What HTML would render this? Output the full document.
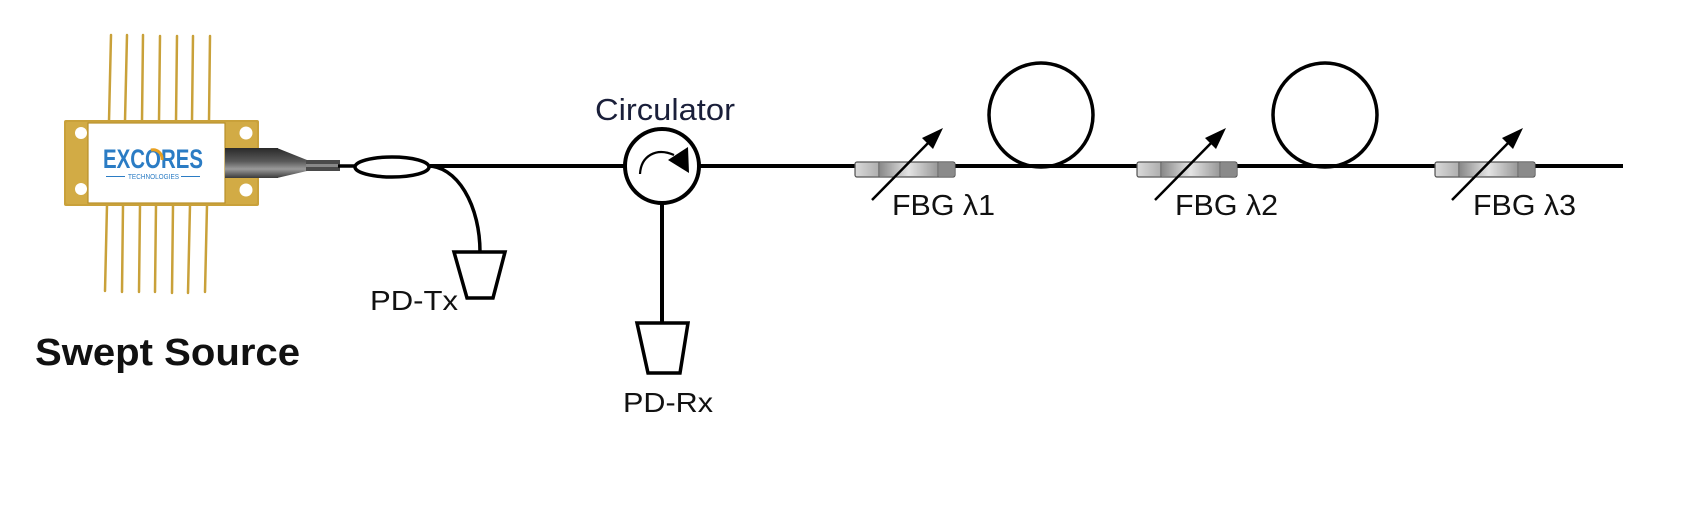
<!DOCTYPE html>
<html>
<head>
<meta charset="utf-8">
<style>
  html,body{margin:0;padding:0;background:#fff;}
  body{width:1682px;height:505px;overflow:hidden;}
  svg{display:block;}
  text{font-family:"Liberation Sans",sans-serif;}
</style>
</head>
<body>
<svg width="1682" height="505" viewBox="0 0 1682 505" xmlns="http://www.w3.org/2000/svg">
  <defs>
    <linearGradient id="barrel" x1="0" y1="0" x2="0" y2="1">
      <stop offset="0" stop-color="#2a2a2a"/>
      <stop offset="0.45" stop-color="#5a5a5a"/>
      <stop offset="0.7" stop-color="#9a9a9a"/>
      <stop offset="1" stop-color="#3a3a3a"/>
    </linearGradient>
    <linearGradient id="fbgmid" x1="0" y1="0" x2="1" y2="0">
      <stop offset="0" stop-color="#8a8a8a"/>
      <stop offset="0.5" stop-color="#e4e4e4"/>
      <stop offset="1" stop-color="#9a9a9a"/>
    </linearGradient>
    <linearGradient id="fbgend" x1="0" y1="0" x2="1" y2="0">
      <stop offset="0" stop-color="#d8d8d8"/>
      <stop offset="1" stop-color="#b0b0b0"/>
    </linearGradient>
    <g id="fbg">
      <rect x="0" y="-4" width="100" height="15" rx="2" fill="#c8c8c8" stroke="#555" stroke-width="1.2"/>
      <rect x="1" y="-3" width="22" height="13" fill="url(#fbgend)"/>
      <rect x="25" y="-3" width="57" height="13" fill="url(#fbgmid)"/>
      <rect x="84" y="-3" width="15" height="13" fill="#8a8a8a"/>
      <line x1="24" y1="-4" x2="24" y2="11" stroke="#666" stroke-width="1.5"/>
      <line x1="83" y1="-4" x2="83" y2="11" stroke="#666" stroke-width="1.5"/>
    </g>
    <g id="tunearrow">
      <line x1="0" y1="0" x2="62" y2="-63" stroke="#000" stroke-width="2.5"/>
      <polygon points="71,-72 61,-51 50,-62" fill="#000"/>
    </g>
  </defs>

  <!-- Pins top -->
  <g stroke="#c9a13a" stroke-width="2.5" stroke-linecap="round">
    <line x1="111" y1="35" x2="109" y2="121"/>
    <line x1="127" y1="35" x2="125" y2="121"/>
    <line x1="143" y1="35" x2="142" y2="121"/>
    <line x1="160" y1="36" x2="159" y2="121"/>
    <line x1="177" y1="36" x2="176" y2="121"/>
    <line x1="193" y1="36" x2="192" y2="121"/>
    <line x1="210" y1="36" x2="209" y2="121"/>
    <!-- bottom -->
    <line x1="107" y1="205" x2="105" y2="291"/>
    <line x1="123" y1="205" x2="122" y2="292"/>
    <line x1="140" y1="205" x2="139" y2="292"/>
    <line x1="156" y1="205" x2="155" y2="292"/>
    <line x1="173" y1="205" x2="172" y2="293"/>
    <line x1="190" y1="205" x2="188" y2="293"/>
    <line x1="207" y1="205" x2="205" y2="292"/>
  </g>

  <!-- Package body -->
  <rect x="64" y="120" width="195" height="86" rx="2" fill="#c9a13a"/>
  <rect x="66" y="122" width="191" height="82" rx="2" fill="#d2ab45"/>
  <rect x="88" y="123" width="137" height="80" fill="#ffffff" stroke="#b88f2a" stroke-width="1.2"/>
  <circle cx="81" cy="133" r="6" fill="#fff"/>
  <circle cx="81" cy="189" r="6" fill="#fff"/>
  <circle cx="246" cy="133" r="6.5" fill="#fff"/>
  <circle cx="246" cy="190" r="6.5" fill="#fff"/>

  <!-- Logo -->
  <text x="103" y="168" font-size="27" font-weight="bold" fill="#2b7cc4" textLength="100" lengthAdjust="spacingAndGlyphs">EXCORES</text>
  <path d="M151 150 A 9 9 0 0 1 162 160" fill="none" stroke="#e8a020" stroke-width="3"/>
  <line x1="106" y1="176.5" x2="125" y2="176.5" stroke="#2b7cc4" stroke-width="1"/>
  <line x1="181" y1="176.5" x2="200" y2="176.5" stroke="#2b7cc4" stroke-width="1"/>
  <text x="128" y="179" font-size="7.5" fill="#2b7cc4" textLength="51" lengthAdjust="spacingAndGlyphs">TECHNOLOGIES</text>

  <!-- Connector -->
  <rect x="225" y="148" width="53" height="30" fill="url(#barrel)"/>
  <polygon points="277,148 307,160 307,171 277,178" fill="url(#barrel)"/>
  <rect x="306" y="160" width="34" height="11" fill="#4a4a4a"/>
  <rect x="306" y="164" width="34" height="3" fill="#888"/>

  <!-- Fiber line -->
  <line x1="338" y1="166" x2="356" y2="166" stroke="#000" stroke-width="3.5"/>
  <line x1="430" y1="166" x2="626" y2="166" stroke="#000" stroke-width="4"/>
  <line x1="699" y1="166" x2="1623" y2="166" stroke="#000" stroke-width="4"/>

  <!-- Coupler -->
  <ellipse cx="392" cy="167" rx="37" ry="10" fill="none" stroke="#000" stroke-width="3.5"/>
  <path d="M428 166 A 52 86 0 0 1 480 252" fill="none" stroke="#000" stroke-width="3.5"/>

  <!-- PD-Tx -->
  <polygon points="454,252 505,252 493,298 467,298" fill="#fff" stroke="#000" stroke-width="3.5" stroke-linejoin="miter"/>
  <text x="370" y="310" font-size="28" fill="#111" textLength="88" lengthAdjust="spacingAndGlyphs">PD-Tx</text>

  <!-- Circulator -->
  <line x1="662" y1="200" x2="662" y2="323" stroke="#000" stroke-width="4"/>
  <circle cx="662" cy="166" r="37" fill="#fff" stroke="#000" stroke-width="4"/>
  <path d="M640 174 C 641 156 656 147 674 155" fill="none" stroke="#000" stroke-width="2.2"/>
  <polygon points="668,160 688,147 689,173" fill="#000"/>
  <text x="595" y="120" font-size="31" fill="#1a1f3a" textLength="140" lengthAdjust="spacingAndGlyphs">Circulator</text>

  <!-- PD-Rx -->
  <polygon points="637,323 688,323 680,373 648,373" fill="#fff" stroke="#000" stroke-width="3.5"/>
  <text x="623" y="412" font-size="28" fill="#111" textLength="90" lengthAdjust="spacingAndGlyphs">PD-Rx</text>

  <!-- Loops -->
  <circle cx="1041" cy="115" r="52" fill="none" stroke="#000" stroke-width="3.5"/>
  <circle cx="1325" cy="115" r="52" fill="none" stroke="#000" stroke-width="3.5"/>

  <!-- FBGs -->
  <use href="#fbg" x="855" y="166"/>
  <use href="#fbg" x="1137" y="166"/>
  <use href="#fbg" x="1435" y="166"/>
  <use href="#tunearrow" x="872" y="200"/>
  <use href="#tunearrow" x="1155" y="200"/>
  <use href="#tunearrow" x="1452" y="200"/>

  <text x="892" y="215" font-size="29" fill="#111" textLength="103" lengthAdjust="spacingAndGlyphs">FBG λ1</text>
  <text x="1175" y="215" font-size="29" fill="#111" textLength="103" lengthAdjust="spacingAndGlyphs">FBG λ2</text>
  <text x="1473" y="215" font-size="29" fill="#111" textLength="103" lengthAdjust="spacingAndGlyphs">FBG λ3</text>

  <!-- Title -->
  <text x="35" y="365" font-size="38" font-weight="bold" fill="#111" textLength="265" lengthAdjust="spacingAndGlyphs">Swept Source</text>
</svg>
</body>
</html>
